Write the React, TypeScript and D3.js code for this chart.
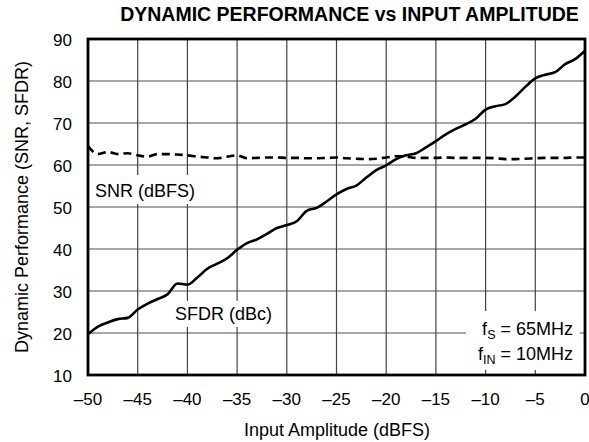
import React from 'react'
import * as d3 from 'd3'

// input amplitude, dBFS (1 dB steps)
const inputAmp: number[] = d3.range(-50, 1, 1)

const sfdr: number[] = [
  19.7, 21.5, 22.5, 23.3, 23.6, 25.6, 27.0, 28.1, 29.2, 31.8,
  31.5, 33.2, 35.3, 36.5, 37.8, 39.8, 41.4, 42.3, 43.6, 45.0,
  45.7, 46.6, 49.1, 49.8, 51.3, 53.0, 54.3, 55.1, 57.0, 58.8,
  59.9, 61.4, 62.3, 62.8, 64.2, 65.7, 67.3, 68.6, 69.7, 71.0,
  73.2, 74.0, 74.5, 76.3, 78.6, 80.6, 81.5, 82.1, 84.0, 85.2,
  87.2,
]

const snr: number[] = [
  64.5, 62.6, 63.1, 62.6, 62.8, 62.3, 62.0, 62.6, 62.6, 62.5,
  62.3, 62.0, 61.8, 61.6, 62.0, 62.3, 61.6, 61.7, 61.8, 61.8,
  61.7, 61.7, 61.6, 61.6, 61.7, 61.8, 61.6, 61.5, 61.4, 61.5,
  61.8, 62.1, 62.0, 61.7, 61.7, 61.7, 61.8, 61.7, 61.7, 61.7,
  61.7, 61.6, 61.4, 61.4, 61.5, 61.6, 61.7, 61.7, 61.7, 61.8,
  61.8,
]

const xTicks = [-50, -45, -40, -35, -30, -25, -20, -15, -10, -5, 0]
const yTicks = [10, 20, 30, 40, 50, 60, 70, 80, 90]

const W = 589
const H = 442
const margin = { top: 39, right: 4, bottom: 67, left: 88 }
const font = '"Liberation Sans", Arial, Helvetica, sans-serif'

export default function App() {
  const x = d3.scaleLinear().domain([-50, 0]).range([margin.left, W - margin.right])
  const y = d3.scaleLinear().domain([10, 90]).range([H - margin.bottom, margin.top])

  const pts = (vals: number[]) => inputAmp.map((a, i) => [a, vals[i]] as [number, number])
  const line = d3
    .line<[number, number]>()
    .x(d => x(d[0]))
    .y(d => y(d[1]))
    .curve(d3.curveMonotoneX)

  const left = x(-50)
  const right = x(0)
  const top = y(90)
  const bottom = y(10)

  return (
    <svg
      width={W}
      height={H}
      style={{ position: 'absolute', left: 0, top: 0, background: '#fff' }}
      fontFamily={font}
    >
      <text x={349.5} y={21} textAnchor="middle" fontSize={19.5} fontWeight="bold">
        DYNAMIC PERFORMANCE vs INPUT AMPLITUDE
      </text>

      {/* grid */}
      {yTicks.slice(1, -1).map(t => (
        <line key={'h' + t} x1={left} x2={right} y1={y(t)} y2={y(t)} stroke="#8a8a8a" strokeWidth={1.6} />
      ))}
      {xTicks.slice(1, -1).map(t => (
        <line key={'v' + t} x1={x(t)} x2={x(t)} y1={top} y2={bottom} stroke="#444" strokeWidth={1.2} />
      ))}

      {/* label backgrounds */}
      <rect x={91} y={175} width={112} height={29} fill="#fff" />
      <rect x={170} y={301} width={110} height={26} fill="#fff" />
      <rect x={466} y={311} width={114} height={59} fill="#fff" />

      <path d={line(pts(snr)) || ''} fill="none" stroke="#000" strokeWidth={2.6} strokeDasharray="8,5" />
      <path d={line(pts(sfdr)) || ''} fill="none" stroke="#000" strokeWidth={2.6} />

      <rect x={left} y={top} width={right - left} height={bottom - top} fill="none" stroke="#000" strokeWidth={2.8} />

      {yTicks.map(t => (
        <text key={'yt' + t} x={left - 16} y={y(t) + 6.5} textAnchor="end" fontSize={17}>
          {t}
        </text>
      ))}
      {xTicks.map(t => (
        <text key={'xt' + t} x={x(t)} y={bottom + 30} textAnchor="middle" fontSize={17}>
          {t < 0 ? '\u2013' + Math.abs(t) : t}
        </text>
      ))}

      <text x={337} y={436} textAnchor="middle" fontSize={18}>
        Input Amplitude (dBFS)
      </text>
      <text
        transform={`translate(28,${(top + bottom) / 2}) rotate(-90)`}
        textAnchor="middle"
        fontSize={18}
      >
        Dynamic Performance (SNR, SFDR)
      </text>

      <text x={95} y={197} fontSize={18}>SNR (dBFS)</text>
      <text x={175} y={320} fontSize={18}>SFDR (dBc)</text>

      <text x={573} y={335} textAnchor="end" fontSize={18}>
        f<tspan fontSize={12.5} dy={4}>S</tspan>
        <tspan dy={-4}> = 65MHz</tspan>
      </text>
      <text x={573} y={360} textAnchor="end" fontSize={18}>
        f<tspan fontSize={12.5} dy={4}>IN</tspan>
        <tspan dy={-4}> = 10MHz</tspan>
      </text>
    </svg>
  )
}
